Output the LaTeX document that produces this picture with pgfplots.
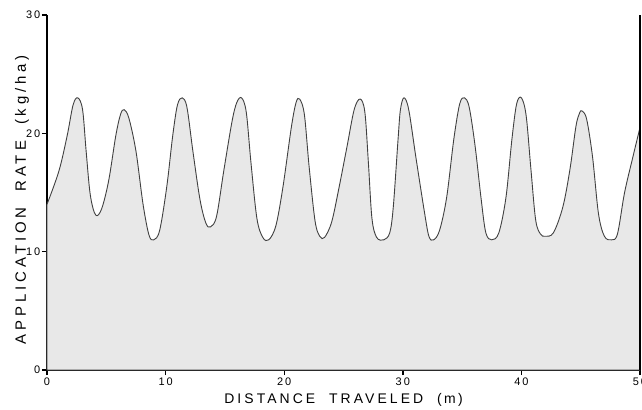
\documentclass[border=0pt]{standalone}
\usepackage{pgfplots}
\pgfplotsset{compat=1.18}
\usepackage{fontspec}
\setmainfont{Liberation Sans}
\newfontfamily\spaced[LetterSpace=18]{Liberation Sans}
\newfontfamily\xlab[LetterSpace=22, WordSpace=2]{Liberation Sans}
\newfontfamily\ylab[LetterSpace=26, WordSpace=2]{Liberation Sans}

\begin{document}
\begin{tikzpicture}
  \begin{axis}[
    scale only axis,
    width=593bp, height=355bp,
    xmin=0, xmax=50,
    ymin=0, ymax=30,
    xtick={0,10,...,50},
    ytick={0,10,20,30},
    axis lines=left,
    axis line style={-, line width=1.6pt},
    tick align=outside,
    major tick length=5bp,
    tick style={line width=1.4pt, black},
    /pgf/number format/assume math mode=true,
    tick label style={font=\fontsize{11}{12}\selectfont\spaced},
    xticklabel style={yshift=1bp},
    yticklabel style={inner xsep=1.5bp},
    xlabel={\xlab DISTANCE TRAVELED (\,m\,)},
    ylabel={\ylab APPLICATION RATE (kg/ha)},
    xlabel style={font=\fontsize{14}{16}\selectfont, at={(rel axis cs:0.5,0)}, anchor=center, yshift=-30bp},
    ylabel style={font=\fontsize{15}{17}\selectfont, at={(rel axis cs:0,0.48)}, anchor=center, yshift=25bp},
    clip=false,
  ]
    \addplot[smooth, tension=0.55, draw=black!75, line width=0.9pt, fill=black!9]
      coordinates {
        (0,14.0) (1.0,16.8) (1.7,19.8) (2.2,22.4) (2.6,23.0) (3.0,22.0)
        (3.3,18.5) (3.65,14.8) (4.1,13.1) (4.6,13.6) (5.2,16.0) (5.8,19.8)
        (6.2,21.6) (6.5,22.0) (6.9,21.3) (7.5,18.5) (8.1,14.0) (8.6,11.4)
        (9.0,11.0) (9.5,11.8) (10.1,15.5) (10.6,19.8) (11.0,22.4) (11.4,23.0)
        (11.8,22.2) (12.3,18.5) (12.9,14.4) (13.4,12.4) (13.8,12.1) (14.3,13.0)
        (14.9,16.8) (15.6,21.0) (16.0,22.6) (16.4,23.0) (16.8,21.8) (17.2,17.5)
        (17.7,12.8) (18.2,11.2) (18.7,11.0) (19.3,12.2) (19.9,15.5) (20.6,20.5)
        (21.0,22.6) (21.3,22.9) (21.7,21.6) (22.1,17.2) (22.6,12.6) (23.0,11.3)
        (23.4,11.2) (24.0,12.5) (24.6,15.3) (25.3,18.9) (25.9,22.0) (26.4,22.9)
        (26.8,21.8) (27.1,17.5) (27.4,12.8) (27.8,11.2) (28.4,11.0) (28.9,11.6)
        (29.2,13.8) (29.6,19.5) (29.8,22.0) (30.1,23.0) (30.5,22.0) (31.1,18.0)
        (31.8,13.5) (32.2,11.3) (32.6,11.0) (33.1,11.8) (33.7,14.6) (34.3,19.5)
        (34.8,22.5) (35.2,23.0) (35.6,22.2) (36.1,18.9) (36.6,14.5) (37.0,11.6)
        (37.5,11.0) (38.1,11.6) (38.7,14.6) (39.2,19.5) (39.6,22.5) (40.0,23.0)
        (40.4,21.5) (40.8,17.0) (41.2,12.7) (41.6,11.5) (42.0,11.3) (42.7,11.6)
        (43.5,13.8) (44.1,17.0) (44.6,20.6) (44.9,21.7) (45.1,21.9) (45.5,21.2)
        (46.0,18.0) (46.5,13.2) (47.0,11.3) (47.6,11.0) (48.1,11.5) (48.7,15.0)
        (49.4,18.0) (50,20.5)
      } \closedcycle;
    \draw[line width=1.6pt] (rel axis cs:1,0) -- (rel axis cs:1,1);
  \end{axis}
  \pgfresetboundingbox
  \path[use as bounding box] (-47bp,-40bp) rectangle (595bp,370bp);
\end{tikzpicture}
\end{document}
